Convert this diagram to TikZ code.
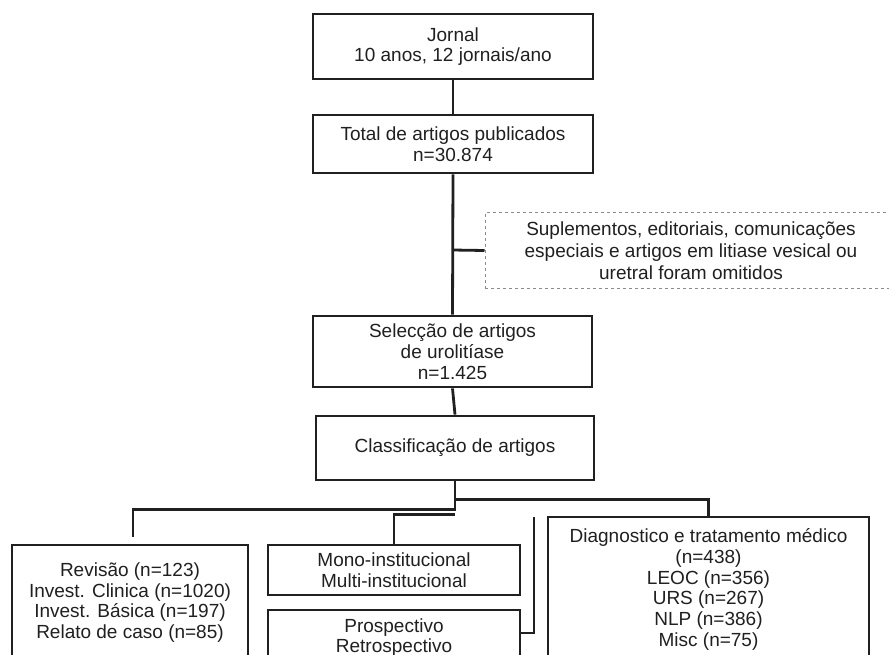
\documentclass[tikz,border=0pt]{standalone}
\usepackage{fontspec}
\setmainfont{Liberation Sans}
\definecolor{ink}{HTML}{202020}
\begin{document}
\begin{tikzpicture}[x=1pt,y=-1pt,
  box/.style={draw=ink, line width=2.8pt, fill=white, inner sep=0pt, align=center, text=ink,
    font=\fontsize{19}{20.8}\selectfont},
  dbox/.style={draw=black!45, dashed, line width=1pt, inner sep=0pt, align=center, text=ink,
    font=\fontsize{19}{22}\selectfont},
  conn/.style={draw=ink, line width=2.8pt}]
\useasboundingbox (0,0) rectangle (889,655);
\clip (0,0) rectangle (889,655);
\fill[white] (0,0) rectangle (889,655);
\node[box, minimum width=280pt, minimum height=65pt] (jornal) at (453,46.5) {Jornal\\10 anos, 12 jornais/ano};
\node[box, minimum width=280pt, minimum height=58pt] (total) at (453,144) {Total de artigos publicados\\n=30.874};
\node[dbox, minimum width=412pt, minimum height=75pt] (supl) at (691,250.5) {Suplementos, editoriais, comunicações\\especiais e artigos em litiase vesical ou\\uretral foram omitidos};
\node[box, minimum width=279pt, minimum height=71pt] (selec) at (452.5,351.5) {Selecção de artigos\\de urolitíase\\n=1.425};
\node[box, minimum width=278pt, minimum height=64pt] (classif) at (455,448) {Classificação de artigos};
\node[box, minimum width=236pt, minimum height=115pt] (rev) at (130,602.5) {Revisão (n=123)\\Invest. Clinica (n=1020)\\Invest. Básica (n=197)\\Relato de caso (n=85)};
\node[box, minimum width=252pt, minimum height=50pt] (mono) at (394,570) {Mono-institucional\\Multi-institucional};
\node[box, minimum width=252pt, minimum height=55pt] (prosp) at (394,637.5) {Prospectivo\\Retrospectivo};
\node[box, minimum width=321pt, minimum height=145pt] (diag) at (708.5,589.5) {Diagnostico e tratamento médico\\(n=438)\\LEOC (n=356)\\URS (n=267)\\NLP (n=386)\\Misc (n=75)};
\coordinate (br) at (452,250);
\coordinate (revend) at (133,537);
\coordinate (bracktop) at (534,517);
\coordinate (brackbot) at (534,633);
\draw[conn] (jornal.south) -- (total.north);
\draw[conn] (total.south) -- (selec.south |- selec.north);
\draw[conn] (br) -- (supl.west);
\draw[conn] (selec.south) -- (classif.north);
\draw[conn] (classif.south) -- ++(0,28) -| (revend);
\draw[conn] (classif.south) ++(0,33) -| (mono.north);
\draw[conn] (classif.south) ++(0,18) -| (diag.north);
\draw[conn] (bracktop) -- (brackbot) -- (prosp.east |- brackbot);
\end{tikzpicture}
\end{document}
